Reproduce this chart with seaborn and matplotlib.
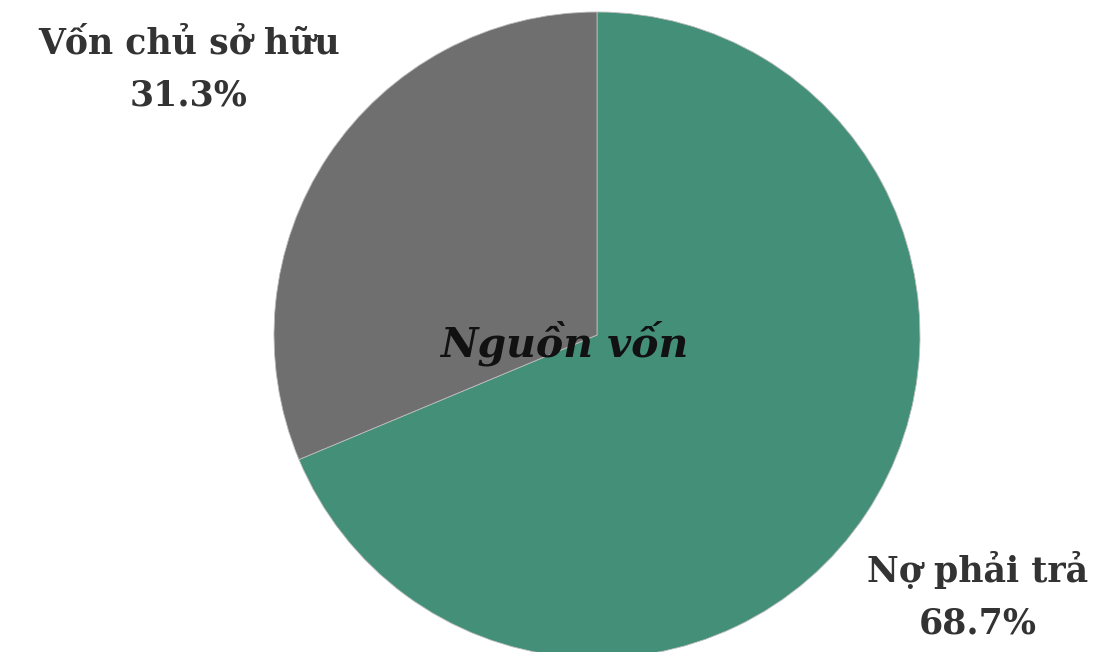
import matplotlib
matplotlib.use("Agg")
import matplotlib.pyplot as plt
import seaborn as sns

# Data
categories = ["Nợ phải trả", "Vốn chủ sở hữu"]
values = [68.7, 31.3]
center_title = "Nguồn vốn"
colors = ["#438f77", "#6f6f6f"]

sns.set_theme(style="white")
plt.rcParams['font.family'] = ['DejaVu Serif']

fig = plt.figure(figsize=(11.05, 6.52), dpi=100)
fig.patch.set_facecolor("white")

W, H = 1105, 652
cx, cy, r = 597, 335, 323
ax = fig.add_axes([(cx - r) / W, (H - cy - r) / H, 2 * r / W, 2 * r / H])
ax.pie(values, colors=colors, startangle=90, counterclock=False,
       radius=1.0, wedgeprops=dict(edgecolor="#bdbdbd", linewidth=0.6))
ax.set_xlim(-1, 1)
ax.set_ylim(-1, 1)
ax.set_aspect("equal")
ax.axis("off")

ax.text(-0.10, -0.025, center_title, ha="center", va="center",
        fontsize=29.5, fontweight="bold", fontstyle="italic", color="#111111")

txtc = "#333333"
fs = 25
fig.text(189 / W, 1 - 44 / H, categories[1], ha="center", va="center",
         fontsize=fs, fontweight="bold", color=txtc)
fig.text(189 / W, 1 - 96 / H, f"{values[1]}%", ha="center", va="center",
         fontsize=fs, fontweight="bold", color=txtc)
fig.text(978 / W, 1 - 570 / H, categories[0], ha="center", va="center",
         fontsize=fs, fontweight="bold", color=txtc)
fig.text(978 / W, 1 - 624 / H, f"{values[0]}%", ha="center", va="center",
         fontsize=fs, fontweight="bold", color=txtc)

fig.savefig("out.png", dpi=100, facecolor="white")
